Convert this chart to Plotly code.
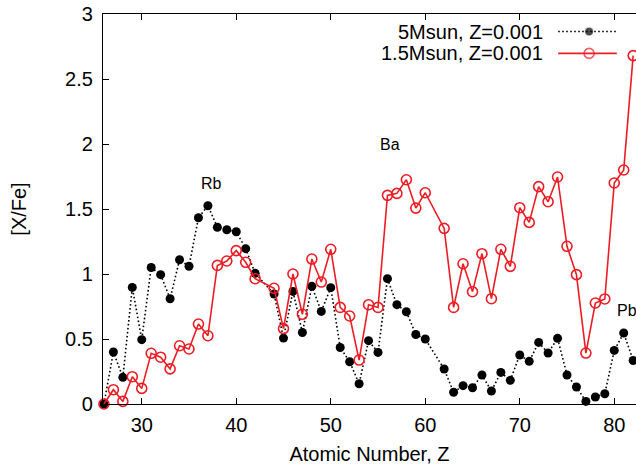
import plotly.graph_objects as go

# Atomic numbers (Tc=43 and Pm=61 absent)
atomic_z = [26, 27, 28, 29, 30, 31, 32, 33, 34, 35, 36, 37, 38, 39, 40, 41, 42,
            44, 45, 46, 47, 48, 49, 50, 51, 52, 53, 54, 55, 56, 57, 58, 59, 60,
            62, 63, 64, 65, 66, 67, 68, 69, 70, 71, 72, 73, 74, 75, 76, 77, 78,
            79, 80, 81, 82]

xfe_5msun = [0.00, 0.40, 0.205, 0.897, 0.495, 1.05, 0.995, 0.81, 1.11, 1.06, 1.433, 1.525,
             1.36, 1.34, 1.325, 1.195, 1.005,
             0.846, 0.507, 0.866, 0.55, 0.905, 0.712, 0.895, 0.435, 0.325, 0.156, 0.487,
             0.397, 0.964, 0.764, 0.71, 0.535, 0.50,
             0.269, 0.09, 0.141, 0.125, 0.223, 0.10, 0.243, 0.182, 0.377, 0.328, 0.474,
             0.392, 0.505, 0.223, 0.131, 0.02, 0.054, 0.079, 0.412, 0.546, 0.335]

xfe_15msun = [0.00, 0.11, 0.02, 0.21, 0.12, 0.39, 0.36, 0.27, 0.448, 0.423, 0.615, 0.525,
              1.066, 1.10, 1.18, 1.09, 0.964,
              0.89, 0.58, 1.00, 0.69, 1.115, 0.938, 1.19, 0.743, 0.677, 0.338, 0.764,
              0.743, 1.605, 1.62, 1.725, 1.507, 1.625,
              1.351, 0.743, 1.079, 0.864, 1.156, 0.81, 1.19, 1.059, 1.51, 1.397, 1.672,
              1.556, 1.746, 1.213, 0.995, 0.392, 0.777, 0.808, 1.70, 1.80, 2.68]

series_names = ["5Msun, Z=0.001", "1.5Msun, Z=0.001"]
element_labels = ["Rb", "Ba", "Pb"]
label_x = [36.1, 55, 80.1]
label_y = [1.70, 2.0, 0.717]

BLACK = "#000000"
RED = "#ec1c24"
FONT = "Liberation Sans, Arial, Helvetica, sans-serif"
DOTS = "1.6px,2.4px"

fig = go.Figure()

fig.add_trace(go.Scatter(
    x=atomic_z, y=xfe_5msun, mode="lines+markers",
    line=dict(color=BLACK, width=1.6, dash=DOTS),
    marker=dict(symbol="circle", size=9, color=BLACK),
    showlegend=False, cliponaxis=False))

fig.add_trace(go.Scatter(
    x=atomic_z, y=xfe_15msun, mode="lines+markers",
    line=dict(color=RED, width=1.6),
    marker=dict(symbol="circle-open", size=10, color=RED, line=dict(width=1.6)),
    showlegend=False, cliponaxis=False))

# custom gnuplot-style key (text left of sample) on an overlay axis
leg_y = [0.955, 0.899]
leg_x = [0.854, 0.912, 0.964]
fig.add_trace(go.Scatter(
    x=leg_x, y=[leg_y[0]] * 3, xaxis="x2", yaxis="y2",
    mode="lines+markers",
    line=dict(color=BLACK, width=1.6, dash=DOTS),
    marker=dict(symbol="circle", size=[0, 9, 0], color=BLACK),
    showlegend=False, hoverinfo="skip", cliponaxis=False))
fig.add_trace(go.Scatter(
    x=leg_x, y=[leg_y[1]] * 3, xaxis="x2", yaxis="y2",
    mode="lines+markers",
    line=dict(color=RED, width=1.6),
    marker=dict(symbol="circle-open", size=[0, 10, 0], color=RED, line=dict(width=1.6)),
    showlegend=False, hoverinfo="skip", cliponaxis=False))

annotations = []
for name, yy in zip(series_names, leg_y):
    annotations.append(dict(text=name, xref="x2", yref="y2", x=0.829, y=yy,
                            xanchor="right", yanchor="middle", showarrow=False,
                            font=dict(family=FONT, size=20, color="#000")))
for t, lx, ly in zip(element_labels, label_x, label_y):
    annotations.append(dict(text=t, x=lx, y=ly, xanchor="left", yanchor="middle",
                            showarrow=False, font=dict(family=FONT, size=16, color="#000")))

fig.update_layout(
    width=636, height=468,
    margin=dict(l=103, r=0, t=14, b=64, autoexpand=False),
    paper_bgcolor="white", plot_bgcolor="white",
    font=dict(family=FONT, size=20, color="#000"),
    annotations=annotations,
    hovermode=False,
    xaxis=dict(range=[25.9, 82.3], tickmode="array", tickvals=[30, 40, 50, 60, 70, 80],
               ticks="inside", ticklen=6, tickwidth=1, tickcolor="#000",
               showline=True, linecolor="#000", linewidth=1.3, mirror="ticks",
               showgrid=False, zeroline=False, ticklabelstandoff=3, automargin=False,
               tickfont=dict(family=FONT, size=20),
               title=dict(text="Atomic Number, Z", standoff=11,
                          font=dict(family=FONT, size=20))),
    yaxis=dict(range=[0, 3], tickmode="array", tickvals=[0, 0.5, 1, 1.5, 2, 2.5, 3],
               ticktext=["0", "0.5", "1", "1.5", "2", "2.5", "3"],
               ticks="inside", ticklen=6, tickwidth=1, tickcolor="#000",
               showline=True, linecolor="#000", linewidth=1.3, mirror=False,
               showgrid=False, zeroline=False, ticklabelstandoff=5, automargin=False,
               tickfont=dict(family=FONT, size=20),
               title=dict(text="[X/Fe]", standoff=33, font=dict(family=FONT, size=20))),
    xaxis2=dict(range=[0, 1], overlaying="x", visible=False, fixedrange=True),
    yaxis2=dict(range=[0, 1], overlaying="y", visible=False, fixedrange=True),
)

fig.write_html("out.html", config={"displayModeBar": False},
               post_script="document.body.style.margin='0';document.body.style.padding='0';")
